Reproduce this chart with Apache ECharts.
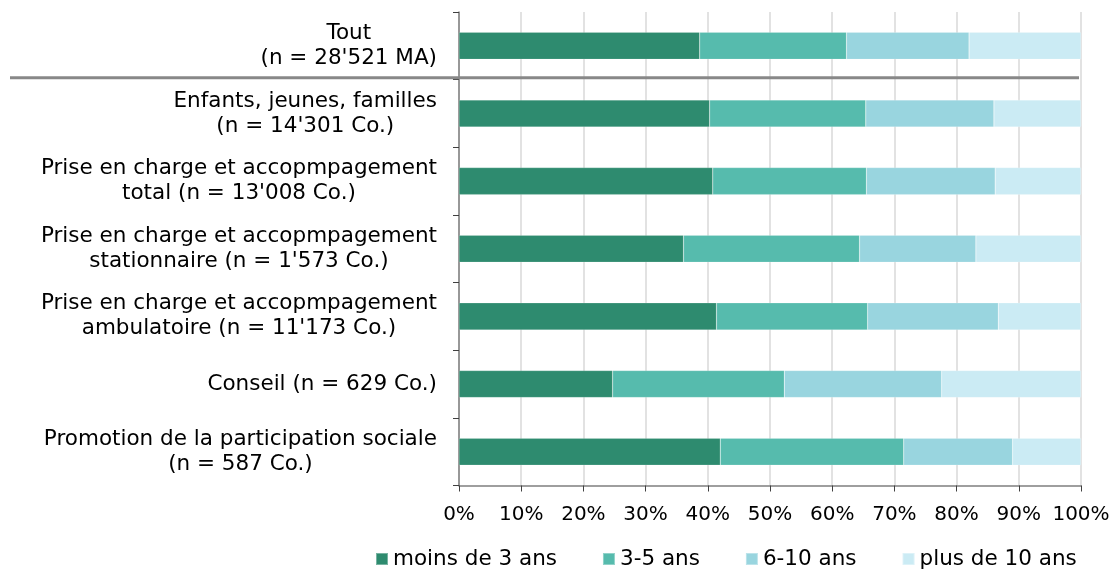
<!DOCTYPE html>
<html>
<head>
<meta charset="utf-8">
<script src="https://cdn.jsdelivr.net/npm/echarts@6/dist/echarts.min.js"></script>
<style>
html, body { margin: 0; padding: 0; background: #fff; }
#main { width: 1114px; height: 570px; }
</style>
</head>
<body>
<div id="main"></div>
<script>
// categories (top to bottom)
var categories = [
	"Tout\n(n = 28'521 MA)",
	"Enfants, jeunes, familles\n(n = 14'301 Co.)",
	"Prise en charge et accopmpagement\ntotal (n = 13'008 Co.)",
	"Prise en charge et accopmpagement\nstationnaire (n = 1'573 Co.)",
	"Prise en charge et accopmpagement\nambulatoire (n = 11'173 Co.)",
	"Conseil (n = 629 Co.)",
	"Promotion de la participation sociale\n(n = 587 Co.)"
];
var seriesNames = ['moins de 3 ans', '3-5 ans', '6-10 ans', 'plus de 10 ans'];
// shares in %
var lessThan3 = [38.7, 40.3, 40.8, 36.1, 41.4, 24.7, 42.0];
var from3to5  = [23.6, 25.1, 24.7, 28.3, 24.3, 27.6, 29.5];
var from6to10 = [19.7, 20.6, 20.7, 18.7, 21.0, 25.3, 17.5];
var moreThan10 = [18.0, 14.0, 13.8, 16.9, 13.3, 22.4, 11.0];
var xTicks = [0, 10, 20, 30, 40, 50, 60, 70, 80, 90, 100];

var colors = ['#2e8b6f', '#56bbad', '#99d5df', '#cbebf4'];
var font = '"DejaVu Sans", Verdana, sans-serif';

var myChart = echarts.init(document.getElementById('main'));

function bar(name, data, i) {
	return {
		name: name,
		type: 'bar',
		stack: 'total',
		barWidth: '40%',
		data: data,
		itemStyle: { color: colors[i], borderColor: 'rgba(255,255,255,0.35)', borderWidth: 0.5 }
	};
}

var option = {
	animation: false,
	color: colors,
	grid: { left: 459, right: 33, top: 12, bottom: 84.5 },
	legend: {
		left: 370,
		top: 543,
		icon: 'rect',
		itemWidth: 12,
		itemHeight: 12,
		itemGap: 45,
		textStyle: { fontFamily: font, fontSize: 21.5, color: '#000' },
		data: seriesNames
	},
	xAxis: {
		type: 'value',
		min: 0,
		max: 100,
		interval: 10,
		axisLine: { show: true, lineStyle: { color: '#7f7f7f', width: 1.5 } },
		axisTick: { show: true, length: 6, lineStyle: { color: '#404040', width: 1 } },
		splitLine: { show: true, lineStyle: { color: '#d9d9d9', width: 1.5 } },
		axisLabel: {
			margin: 19,
			fontFamily: font,
			fontSize: 20,
			color: '#000',
			formatter: function (v) { return xTicks.indexOf(v) >= 0 ? v + '%' : ''; }
		}
	},
	yAxis: {
		type: 'category',
		inverse: true,
		data: categories,
		axisLine: { show: true, lineStyle: { color: '#7f7f7f', width: 1.5 } },
		axisTick: { show: true, length: 6, lineStyle: { color: '#404040', width: 1 } },
		splitLine: { show: false },
		axisLabel: {
			margin: 22,
			formatter: function (value) {
				return value.split('\n').map(function (l) { return '{c|' + l + '}'; }).join('\n');
			},
			rich: {
				c: { align: 'center', fontFamily: font, fontSize: 21.5, color: '#000', lineHeight: 25 }
			}
		}
	},
	series: [
		bar(seriesNames[0], lessThan3, 0),
		bar(seriesNames[1], from3to5, 1),
		bar(seriesNames[2], from6to10, 2),
		bar(seriesNames[3], moreThan10, 3)
	]
};
myChart.setOption(option);

// separator between "Tout" and the sub groups
var y0 = myChart.convertToPixel({ yAxisIndex: 0 }, 0);
var y1 = myChart.convertToPixel({ yAxisIndex: 0 }, 1);
var xEnd = myChart.convertToPixel({ xAxisIndex: 0 }, 100);
var sepY = (y0 + y1) / 2 - 2;
myChart.setOption({
	graphic: [{
		type: 'line',
		z: 100,
		shape: { x1: 10, y1: sepY, x2: xEnd - 2, y2: sepY },
		style: { stroke: '#888', lineWidth: 3 }
	}]
});
</script>
</body>
</html>
